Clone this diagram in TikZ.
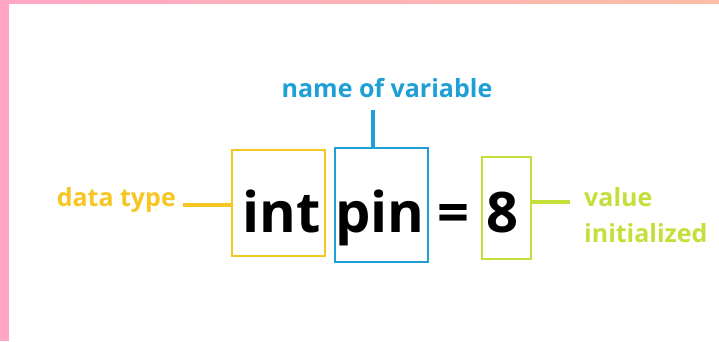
\documentclass[tikz,border=0pt]{standalone}
\usepackage{fontspec}
\setmainfont{Open Sans}
\begin{document}
\begin{tikzpicture}[x=1pt,y=-1pt,
  box/.style={draw=#1, line width=1.6pt, inner sep=0pt},
  code/.style={font=\fontsize{56}{60}\selectfont\bfseries, text=black, inner sep=0pt, anchor=base},
  lab/.style={font=\fontsize{25}{28}\selectfont\bfseries, text=#1, inner sep=0pt},
  lead/.style={draw=#1, line width=4pt}]
\definecolor{ytype}{HTML}{F6C623}
\definecolor{bname}{HTML}{1E9FD6}
\definecolor{gval}{HTML}{C4DF3A}
\definecolor{pinkA}{HTML}{FFA6C6}
\definecolor{pinkB}{HTML}{FCBEA6}
% page and frame
\useasboundingbox (0,0) rectangle (719,341);
\fill[white] (0,0) rectangle (719,341);
\shade[left color=pinkA, right color=pinkB] (0,0) rectangle (719,3);
\fill[pinkA] (0,0) rectangle (9,341);
% boxes
\node[box=ytype, minimum width=93pt, minimum height=106pt] (tbox) at (278.5,203) {};
\node[box=bname, minimum width=93pt, minimum height=114pt] (nbox) at (381.5,205) {};
\node[box=gval, minimum width=49pt, minimum height=102pt] (vbox) at (506.5,208) {};
% code text
\node[code] (tint) at (282,232) {int};
\node[code] (tpin) at (380,232) {pin};
\node[code] (teq) at (453,232) {=};
\node[code] (tval) at (502,232) {8};
% labels
\node[lab=ytype, anchor=east] (ltype) at (176,200) {data type};
\node[lab=bname] (lname) at (387,88) {name of variable};
\node[lab=gval, anchor=north west, align=left, font=\fontsize{25}{36}\selectfont\bfseries] (lval) at (584,187) {value\\initialized};
% leader lines
\coordinate (ntop) at (373,110);
\draw[lead=ytype] (ltype.east) ++(7,5) coordinate (tstart) -- (tstart -| tbox.west);
\draw[lead=bname] (ntop) -- (ntop |- nbox.north);
\draw[lead=gval] (vbox.east |- 0,202) coordinate (vstart) -- (570,202) coordinate (vend);
\end{tikzpicture}
\end{document}
